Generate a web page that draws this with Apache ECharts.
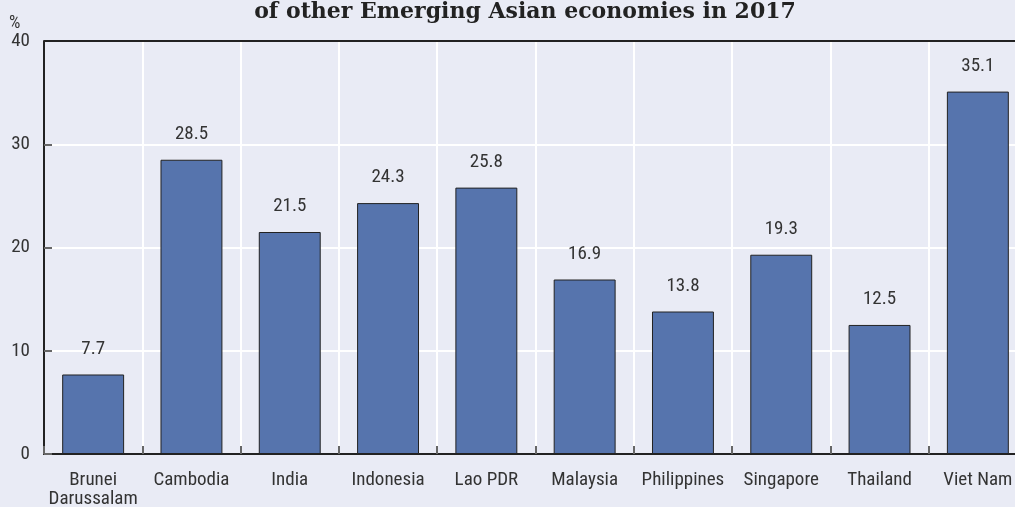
<!DOCTYPE html>
<html>
<head>
<meta charset="utf-8">
<script src="https://cdn.jsdelivr.net/npm/echarts@6/dist/echarts.min.js"></script>
<style>
    html, body { margin: 0; padding: 0; background: #e9ebf5; overflow: hidden; }
    #main { width: 1027px; height: 507px; }
</style>
</head>
<body>
<div id="main"></div>
<script>
    // categories and values
    const countries = ['Brunei\nDarussalam', 'Cambodia', 'India', 'Indonesia', 'Lao PDR',
        'Malaysia', 'Philippines', 'Singapore', 'Thailand', 'Viet Nam']
    const shares = [7.7, 28.5, 21.5, 24.3, 25.8, 16.9, 13.8, 19.3, 12.5, 35.1]

    const labelFont = '"Liberation Sans Narrow", "Roboto Condensed", "Liberation Sans", sans-serif'

    const chart = echarts.init(document.getElementById('main'))
    chart.setOption({
        backgroundColor: '#e9ebf5',
        animation: false,
        title: {
            text: 'of other Emerging Asian economies in 2017',
            left: 520,
            textAlign: 'center',
            top: -4,
            textStyle: {
                fontFamily: '"DejaVu Serif", serif',
                fontWeight: 'bold',
                fontSize: 22,
                color: '#222'
            }
        },
        graphic: [
            {
                // unit label above the y axis
                type: 'text',
                left: 9,
                top: 14,
                style: {
                    text: '%',
                    fill: '#333',
                    font: '18px ' + labelFont
                }
            }
        ],
        grid: {
            left: 44,
            right: 0,
            top: 41,
            bottom: 53,
            outerBoundsMode: 'none',
            containLabel: false,
            show: false
        },
        xAxis: {
            type: 'category',
            data: countries,
            axisLine: { lineStyle: { color: '#222', width: 2 } },
            axisTick: { show: true, inside: true, length: 8, lineStyle: { color: '#666', width: 2 } },
            splitLine: { show: true, lineStyle: { color: '#ffffff', width: 2 } },
            axisLabel: {
                color: '#333',
                fontFamily: labelFont,
                fontSize: 19,
                lineHeight: 19,
                margin: 17,
                interval: 0
            }
        },
        yAxis: {
            type: 'value',
            min: 0,
            max: 40,
            interval: 10,
            axisLine: { show: true, lineStyle: { color: '#222', width: 2 } },
            axisTick: { show: true, inside: true, length: 8, lineStyle: { color: '#666', width: 2 } },
            splitLine: { show: true, lineStyle: { color: '#ffffff', width: 2 } },
            axisLabel: {
                color: '#333',
                fontFamily: labelFont,
                fontSize: 19,
                margin: 14
            }
        },
        series: [
            {
                // top frame line
                type: 'line',
                data: [],
                markLine: {
                    silent: true,
                    symbol: 'none',
                    label: { show: false },
                    lineStyle: { color: '#222', width: 2, type: 'solid' },
                    data: [{ yAxis: 40 }]
                }
            },
            {
                type: 'bar',
                data: shares,
                barCategoryGap: '37%',
                itemStyle: {
                    color: '#5674ad',
                    borderColor: '#222',
                    borderWidth: 1
                },
                label: {
                    show: true,
                    position: 'top',
                    distance: 16,
                    color: '#333',
                    fontFamily: labelFont,
                    fontSize: 19,
                    formatter: p => p.value.toFixed(1)
                }
            }
        ]
    })
</script>
</body>
</html>
